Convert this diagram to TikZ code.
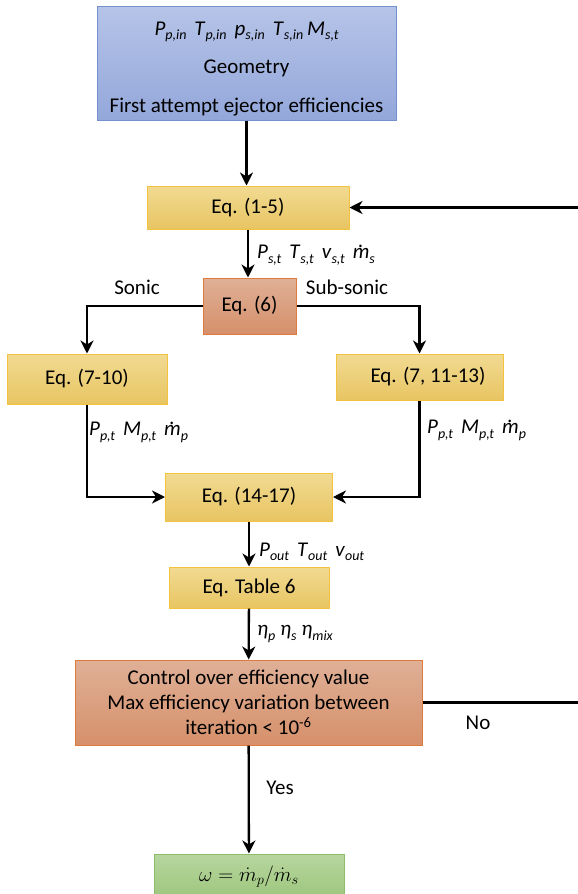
\documentclass[tikz,border=0pt]{standalone}
\usepackage{fontspec}
\setmainfont{Carlito}
\usetikzlibrary{arrows.meta}

\definecolor{inTop}{HTML}{B6C4E8}
\definecolor{inBot}{HTML}{93A7DA}
\definecolor{inEdge}{HTML}{7390CF}
\definecolor{eqTop}{HTML}{F1DA92}
\definecolor{eqBot}{HTML}{E8C562}
\definecolor{eqEdge}{HTML}{F2C240}
\definecolor{ckTop}{HTML}{DFB097}
\definecolor{ckBot}{HTML}{D6906A}
\definecolor{ckEdge}{HTML}{E07B3F}
\definecolor{resTop}{HTML}{B7D69F}
\definecolor{resBot}{HTML}{9CC67B}
\definecolor{resEdge}{HTML}{8DBD68}

% variable with italic subscript
\newcommand{\vsub}[2]{\textit{#1}\raisebox{-0.45ex}{\fontsize{14}{14}\selectfont\textit{#2}}}
% italic m with a dot above
\newcommand{\mdot}{\textit{m}\llap{\raisebox{1.15ex}{\textit{.}}\hspace{0.28em}}}
\newcommand{\gap}{\hspace{8pt}}

\begin{document}
\begin{tikzpicture}[x=1pt, y=-1pt,
      every node/.style = {font=\fontsize{21}{25}\selectfont},
      box/.style = {shape=rectangle, line width=1pt, align=center, inner sep=0pt},
      inbox/.style = {box, draw=inEdge, top color=inTop, bottom color=inBot},
      eqbox/.style = {box, draw=eqEdge, top color=eqTop, bottom color=eqBot},
      ckbox/.style = {box, draw=ckEdge, top color=ckTop, bottom color=ckBot},
      resbox/.style = {box, draw=resEdge, top color=resTop, bottom color=resBot},
      vars/.style = {anchor=west, inner sep=0pt},
      flow/.style = {-{Stealth[length=13pt, width=13pt, inset=4pt]}, line width=2.3pt}]
  \useasboundingbox (0,0) rectangle (578,894);

  % boxes
  \node[inbox, minimum width=299pt, minimum height=114pt] (input) at (246.5,63)
    {\rule{0pt}{25pt}\vsub{P}{p,in}\gap\vsub{T}{p,in}\gap\vsub{p}{s,in}\gap\vsub{T}{s,in}\hspace{4pt}\vsub{M}{s,t}\\[13.5pt]
     Geometry\\[13.5pt]
     First attempt ejector efficiencies};
  \node[eqbox, minimum width=202pt, minimum height=43pt] (eq15) at (248,207.5) {Eq. (1-5)};
  \node[ckbox, minimum width=93pt, minimum height=56pt] (eq6) at (249.5,306) {Eq. (6)};
  \node[eqbox, minimum width=160pt, minimum height=50pt] (sonic) at (87,379) {Eq. (7-10)};
  \node[eqbox, minimum width=167pt, minimum height=46pt] (subsonic) at (419.5,377) {\hspace*{17pt}Eq. (7, 11-13)};
  \node[eqbox, minimum width=167pt, minimum height=48pt] (mix) at (249,497) {Eq. (14-17)};
  \node[eqbox, minimum width=160pt, minimum height=41pt] (table) at (249,587.5) {Eq. Table 6};
  \node[ckbox, minimum width=347pt, minimum height=85pt] (check) at (248.5,702.5)
    {Control over efficiency value\\
     Max efficiency variation between\\
     iteration < 10\textsuperscript{-6}};
  \node[resbox, minimum width=190pt, minimum height=46pt, font=\fontsize{22}{26}\selectfont] (result) at (249,877)
    {$\omega = \dot m_p/\dot m_s$};

  % labels
  \node (sonictxt) at (137,287) {Sonic};
  \node (subtxt) at (347,287) {Sub-sonic};
  \node (notxt) at (478,723) {No};
  \node (yestxt) at (280,788) {Yes};
  \node[vars] (throat) at (257,255)
    {\vsub{P}{s,t}\gap\vsub{T}{s,t}\gap\vsub{v}{s,t}\gap\vsub{\mdot}{s}};
  \node[vars] (primL) at (89,432) {\vsub{P}{p,t}\gap\vsub{M}{p,t}\gap\vsub{\mdot}{p}};
  \node[vars] (primR) at (427,430) {\vsub{P}{p,t}\gap\vsub{M}{p,t}\gap\vsub{\mdot}{p}};
  \node[vars] (outlet) at (259,552) {\vsub{P}{out}\gap\vsub{T}{out}\gap\vsub{v}{out}};
  \node[vars] (effs) at (257,634) {\vsub{η}{p} \vsub{η}{s} \vsub{η}{mix}};

  % connectors
  \coordinate (back) at (582,702.5);
  \draw[flow] (input.south) -- (input.south |- eq15.north);
  \draw[flow] (eq15.south) -- (eq15.south |- eq6.north);
  \draw[flow] (eq6.west) -| (sonic.north);
  \draw[flow] (eq6.east) -| (subsonic.north);
  \draw[flow] (sonic.south) |- (mix.west);
  \draw[flow] (subsonic.south) |- (mix.east);
  \draw[flow] (mix) -- (table);
  \draw[flow] (table) -- (check);
  \draw[flow] (check) -- (result);
  \draw[flow] (check.east) -- (back) |- (eq15.east);
\end{tikzpicture}
\end{document}
